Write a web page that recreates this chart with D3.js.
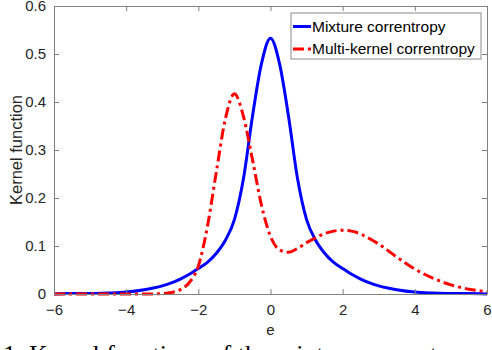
<!DOCTYPE html>
<meta charset="utf-8">
<script src="https://d3js.org/d3.v7.min.js"></script>
<style>
  body { margin: 0; background: #fff; overflow: hidden; }
  svg text { font-family: "Liberation Sans", Arial, sans-serif; }
</style>
<div id="chart"></div>
<script>
    // error axis (e) and curve values
    var eValues = [-6, -5.5, -5, -4.5, -4, -3.5, -3, -2.75, -2.5, -2.25, -2, -1.75, -1.5, -1.25, -1, -0.75, -0.5, -0.25,
        0, 0.25, 0.5, 0.75, 1, 1.25, 1.5, 1.75, 2, 2.25, 2.5, 2.75, 3, 3.5, 4, 4.5, 5, 5.5, 6];

    var mixture = [0.000, 0.001, 0.001, 0.002, 0.004, 0.009, 0.017, 0.023, 0.031, 0.041, 0.053, 0.066, 0.085, 0.112, 0.155, 0.24, 0.37, 0.48,
        0.533, 0.48, 0.37, 0.24, 0.155, 0.112, 0.085, 0.066, 0.053, 0.041, 0.031, 0.023, 0.017, 0.009, 0.004, 0.002, 0.001, 0.001, 0.000];

    var multiKernel = [0.000, 0.000, 0.000, 0.000, 0.000, 0.000, 0.001, 0.003, 0.009, 0.024, 0.058, 0.14, 0.255, 0.365, 0.417, 0.37, 0.28, 0.185,
        0.12, 0.092, 0.087, 0.095, 0.107, 0.117, 0.126, 0.131, 0.133, 0.131, 0.125, 0.115, 0.104, 0.077, 0.052, 0.033, 0.019, 0.010, 0.005];

    var xTicks = [-6, -4, -2, 0, 2, 4, 6];
    var yTicks = [0, 0.1, 0.2, 0.3, 0.4, 0.5, 0.6];
    var seriesNames = ["Mixture correntropy", "Multi-kernel correntropy"];

    var margin = { top: 6, right: 5, bottom: 56, left: 54 },
        width = 492 - margin.left - margin.right,
        height = 350 - margin.top - margin.bottom;

    var svg = d3.select("#chart")
        .append("svg")
        .attr("width", 492)
        .attr("height", 350);

    var g = svg.append("g")
        .attr("transform", "translate(" + margin.left + "," + margin.top + ")");

    var x = d3.scaleLinear().domain([-6, 6]).range([0, width]);
    var y = d3.scaleLinear().domain([0, 0.6]).range([height, 0]);

    var axisColor = "#808080", textColor = "#262626";

    // curves first, axes drawn over them
    var line = d3.line()
        .x(function (d) { return x(d[0]); })
        .y(function (d) { return y(d[1]); })
        .curve(d3.curveMonotoneX);

    g.append("path")
        .datum(eValues.map(function (e, i) { return [e, mixture[i]]; }))
        .attr("fill", "none")
        .attr("stroke", "#0000ff")
        .attr("stroke-width", 3)
        .attr("d", line);

    g.append("path")
        .datum(eValues.map(function (e, i) { return [e, multiKernel[i]]; }))
        .attr("fill", "none")
        .attr("stroke", "#ff0000")
        .attr("stroke-width", 3)
        .attr("stroke-dasharray", "11,4,3,4")
        .attr("d", line);

    // axes, MATLAB style box with inward ticks
    function styleAxis(sel) {
        sel.select(".domain").attr("stroke", axisColor);
        sel.selectAll(".tick line").attr("stroke", axisColor);
        sel.selectAll(".tick text").attr("fill", textColor).style("font-size", "15px");
    }

    g.append("g")
        .attr("transform", "translate(0," + height + ")")
        .call(d3.axisBottom(x).tickValues(xTicks).tickSizeInner(-5).tickSizeOuter(0).tickPadding(10))
        .call(styleAxis);

    g.append("g")
        .call(d3.axisTop(x).tickValues(xTicks).tickSizeInner(-5).tickSizeOuter(0).tickFormat(""))
        .call(styleAxis);

    g.append("g")
        .call(d3.axisLeft(y).tickValues(yTicks).tickSizeInner(-5).tickSizeOuter(0).tickPadding(8)
            .tickFormat(function (d) { return d === 0 ? "0" : d3.format(".1f")(d); }))
        .call(styleAxis);

    g.append("g")
        .attr("transform", "translate(" + width + ",0)")
        .call(d3.axisRight(y).tickValues(yTicks).tickSizeInner(-5).tickSizeOuter(0).tickFormat(""))
        .call(styleAxis);

    // axis labels
    g.append("text")
        .attr("x", x(0))
        .attr("y", height + 41)
        .attr("text-anchor", "middle")
        .attr("fill", textColor)
        .style("font-size", "15px")
        .text("e");

    g.append("text")
        .attr("transform", "translate(-32," + y(0.3) + ") rotate(-90)")
        .attr("text-anchor", "middle")
        .attr("fill", textColor)
        .style("font-size", "16.5px")
        .text("Kernel function");

    // legend
    var legend = svg.append("g").attr("transform", "translate(291,13)");
    legend.append("rect")
        .attr("width", 190).attr("height", 46)
        .attr("fill", "#fff")
        .attr("stroke", "#8c8c8c")
        .attr("stroke-width", 1);

    var legendStyles = [
        { color: "#0000ff", dash: null },
        { color: "#ff0000", dash: "11,4,3,4" }
    ];

    seriesNames.forEach(function (name, i) {
        var cy = 13.5 + i * 22.5;
        legend.append("line")
            .attr("x1", 2).attr("x2", 20)
            .attr("y1", cy).attr("y2", cy)
            .attr("stroke", legendStyles[i].color)
            .attr("stroke-width", 3)
            .attr("stroke-dasharray", legendStyles[i].dash);
        legend.append("text")
            .attr("x", 21).attr("y", cy)
            .attr("dy", "0.35em")
            .attr("fill", "#000")
            .style("font-size", "15.5px")
            .text(name);
    });

    // caption of the source figure, cut by the frame
    svg.append("text")
        .attr("x", 3)
        .attr("y", 363)
        .style("font-family", "'Liberation Serif', 'Times New Roman', serif")
        .style("font-size", "26px")
        .attr("fill", "#000")
        .text("1. Kernel functions of the mixture correntropy and multi-kernel correntropy");
</script>
